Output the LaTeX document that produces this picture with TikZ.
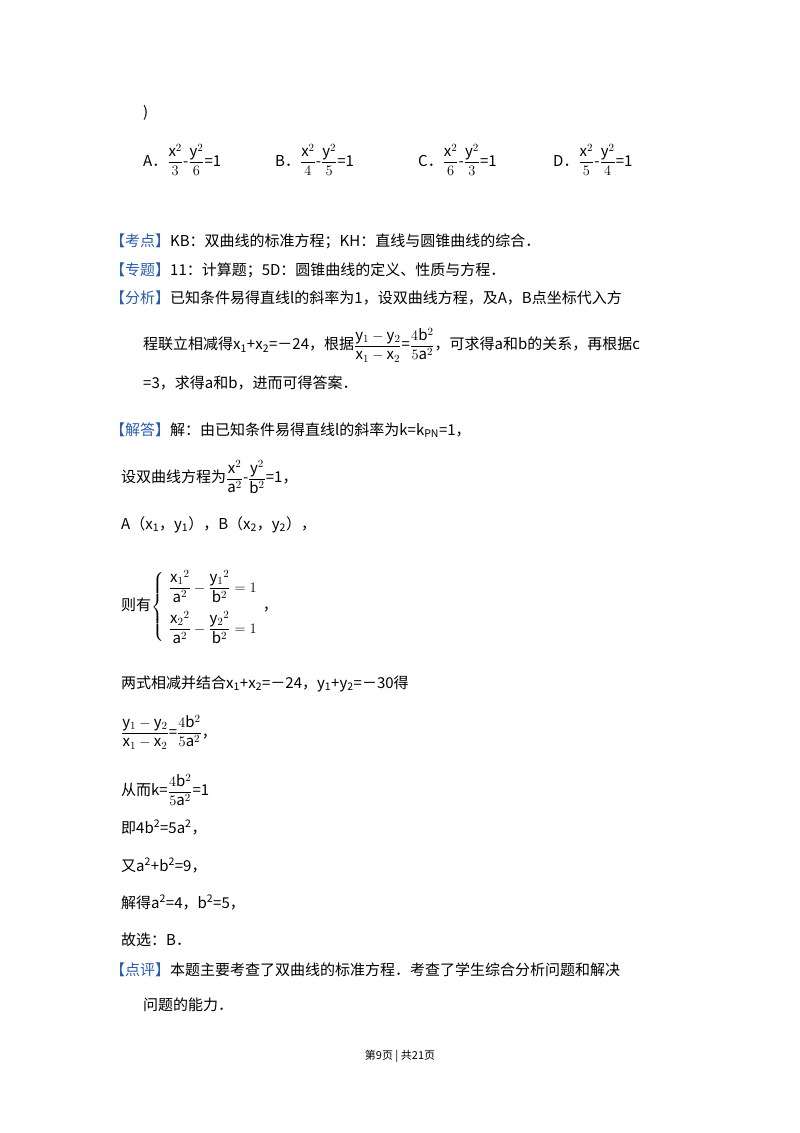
\documentclass[tikz,border=0pt]{standalone}
\usepackage{fontspec}
\setmainfont{Noto Sans CJK SC}
\usepackage{amsmath}
\definecolor{tagblue}{HTML}{2A5CAA}
\begin{document}
\begin{tikzpicture}[x=1pt,y=-1pt,
  t/.style={anchor=base west,inner sep=0pt,font=\fontsize{15}{17}\selectfont},
  f/.style={anchor=west,inner sep=0pt,font=\fontsize{15}{17}\selectfont}]
\useasboundingbox (0,0) rectangle (800,1133);
\newcommand\tg[1]{\textcolor{tagblue}{【#1】}}
\node[t] (p) at (143,117) {)};
\node[f] (oa) at (143,160) {A．$\dfrac{\mathrm{x}^2}{3}$-$\dfrac{\mathrm{y}^2}{6}$=1};
\node[f] (ob) at (275,160) {B．$\dfrac{\mathrm{x}^2}{4}$-$\dfrac{\mathrm{y}^2}{5}$=1};
\node[f] (oc) at (418,160) {C．$\dfrac{\mathrm{x}^2}{6}$-$\dfrac{\mathrm{y}^2}{3}$=1};
\node[f] (od) at (553,160) {D．$\dfrac{\mathrm{x}^2}{5}$-$\dfrac{\mathrm{y}^2}{4}$=1};
\node[t] (k1) at (110,246) {\tg{考点}KB：双曲线的标准方程；KH：直线与圆锥曲线的综合．};
\node[t] (k2) at (110,275) {\tg{专题}11：计算题；5D：圆锥曲线的定义、性质与方程．};
\node[t] (k3) at (110,303) {\tg{分析}已知条件易得直线l的斜率为1，设双曲线方程，及A，B点坐标代入方};
\node[f] (k4) at (143,345) {程联立相减得x\textsubscript{1}+x\textsubscript{2}=－24，根据$\dfrac{\mathrm{y}_1-\mathrm{y}_2}{\mathrm{x}_1-\mathrm{x}_2}$=$\dfrac{4\mathrm{b}^2}{5\mathrm{a}^2}$，可求得a和b的关系，再根据c};
\node[t] (k5) at (143,388) {=3，求得a和b，进而可得答案．};
\node[t] (k6) at (110,435) {\tg{解答}解：由已知条件易得直线l的斜率为k=k\textsubscript{PN}=1，};
\node[f] (s1) at (121,477) {设双曲线方程为$\dfrac{\mathrm{x}^2}{\mathrm{a}^2}$-$\dfrac{\mathrm{y}^2}{\mathrm{b}^2}$=1，};
\node[t] (s2) at (121,529) {A（x\textsubscript{1}，y\textsubscript{1}），B（x\textsubscript{2}，y\textsubscript{2}），};
\node[f] (s3) at (121,607) {则有$\left\{\begin{array}{l}\dfrac{\mathrm{x}_1{}^2}{\mathrm{a}^2}-\dfrac{\mathrm{y}_1{}^2}{\mathrm{b}^2}=1\\[14pt] \dfrac{\mathrm{x}_2{}^2}{\mathrm{a}^2}-\dfrac{\mathrm{y}_2{}^2}{\mathrm{b}^2}=1\end{array}\right.$，};
\node[t] (s4) at (121,688) {两式相减并结合x\textsubscript{1}+x\textsubscript{2}=－24，y\textsubscript{1}+y\textsubscript{2}=－30得};
\node[f] (s5) at (121,732) {$\dfrac{\mathrm{y}_1-\mathrm{y}_2}{\mathrm{x}_1-\mathrm{x}_2}$=$\dfrac{4\mathrm{b}^2}{5\mathrm{a}^2}$，};
\node[f] (s6) at (121,790) {从而k=$\dfrac{4\mathrm{b}^2}{5\mathrm{a}^2}$=1};
\node[t] (s7) at (121,833) {即4b\textsuperscript{2}=5a\textsuperscript{2}，};
\node[t] (s8) at (121,871) {又a\textsuperscript{2}+b\textsuperscript{2}=9，};
\node[t] (s9) at (121,908) {解得a\textsuperscript{2}=4，b\textsuperscript{2}=5，};
\node[t] (s10) at (121,945) {故选：B．};
\node[t] (d1) at (110,975) {\tg{点评}本题主要考查了双曲线的标准方程．考查了学生综合分析问题和解决};
\node[t] (d2) at (143,1010) {问题的能力．};
\node[anchor=base,inner sep=0pt,font=\fontsize{11}{13}\selectfont] (ft) at (400,1059) {第9页 | 共21页};
\end{tikzpicture}
\end{document}
